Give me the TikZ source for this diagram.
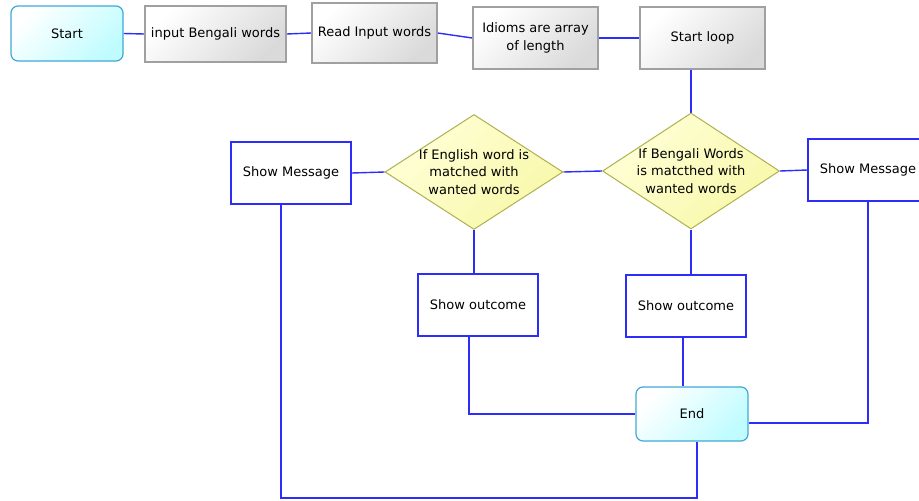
\documentclass[tikz,border=0pt]{standalone}
\usepackage{fontspec}
\setmainfont{DejaVu Sans}
\usetikzlibrary{shapes.geometric,calc}
\pgfdeclarelayer{bg}
\pgfsetlayers{bg,main}
\definecolor{lineblue}{RGB}{45,45,250}
\definecolor{termborder}{RGB}{64,168,216}
\definecolor{termfill}{RGB}{192,252,255}
\definecolor{grayborder}{RGB}{160,160,160}
\definecolor{grayfill}{RGB}{218,218,218}
\definecolor{diaborder}{RGB}{176,176,80}
\definecolor{diafill}{RGB}{248,248,170}
\definecolor{diatop}{RGB}{255,255,215}
\tikzset{
  base/.style={inner sep=0pt, align=center, font=\fontsize{13}{17.5}\selectfont},
  term/.style={base, draw=termborder, line width=1.2pt, rounded corners=7pt,
    top color=white, bottom color=termfill, shading angle=45},
  graybox/.style={base, draw=grayborder, line width=1.4pt,
    top color=white, bottom color=grayfill, shading angle=45},
  bluebox/.style={base, draw=lineblue, line width=1.4pt, fill=white},
  decision/.style={base, diamond, draw=diaborder, line width=1pt,
    top color=diatop, bottom color=diafill, shading angle=45},
  conn/.style={color=lineblue, line width=1.4pt},
}
\begin{document}
\begin{tikzpicture}[x=1pt,y=-1pt]
\useasboundingbox (0,0) rectangle (919,501);
\node[term, minimum width=112pt, minimum height=55pt] (start) at (67,33.5) {Start};
\node[graybox, minimum width=141pt, minimum height=56pt] (inp) at (215.5,34) {input Bengali words};
\node[graybox, minimum width=125pt, minimum height=60pt] (read) at (374.5,33) {Read Input words};
\node[graybox, minimum width=125pt, minimum height=62pt] (idi) at (535.5,38) {Idioms are array\\of length};
\node[graybox, minimum width=125pt, minimum height=62pt] (loop) at (702.5,38) {Start loop};
\node[decision, minimum width=178pt, minimum height=115pt,
  label={[base, name=d1t]center:If English word is\\matched with\\wanted words}] (d1) at (474,172) {};
\node[decision, minimum width=177pt, minimum height=116pt,
  label={[base, name=d2t]center:If Bengali Words\\is matcthed with\\wanted words}] (d2) at (691,171) {};
\node[bluebox, minimum width=120pt, minimum height=62pt] (msgL) at (291,173) {Show Message};
\node[bluebox, minimum width=120pt, minimum height=62pt] (msgR) at (868,170) {Show Message};
\node[bluebox, minimum width=120pt, minimum height=62pt] (out1) at (478,305) {Show outcome};
\node[bluebox, minimum width=120pt, minimum height=62pt] (out2) at (686,306) {Show outcome};
\node[term, minimum width=112pt, minimum height=54pt] (endn) at (692,414) {End};
\coordinate (bot) at (697,498);

\begin{pgfonlayer}{bg}
\draw[conn] (start.east) -- (inp.west);
\draw[conn] (inp.east) -- (read.west);
\draw[conn] (read.east) -- (idi.west);
\draw[conn] (idi.east) -- (loop.west);
\draw[conn] (d2.north |- loop.south) -- (d2.north);
\draw[conn] (d1.east) -- (d2.west);
\draw[conn] (msgL.east) -- (d1.west);
\draw[conn] (msgR.west) -- (d2.east);
\draw[conn] (d1.south) -- (d1.south |- out1.north);
\draw[conn] (d2.south) -- (d2.south |- out2.north);
\draw[conn] ([xshift=-9pt]out1.south) |- (endn.west);
\draw[conn] ([xshift=-3pt]out2.south) -- ([xshift=-3pt]out2.south |- endn.north);
\draw[conn] (msgR.south) |- ([yshift=-9pt]endn.east);
\draw[conn] ([xshift=-10pt]msgL.south) |- (bot) -- (bot |- endn.south);
\end{pgfonlayer}
\end{tikzpicture}
\end{document}
